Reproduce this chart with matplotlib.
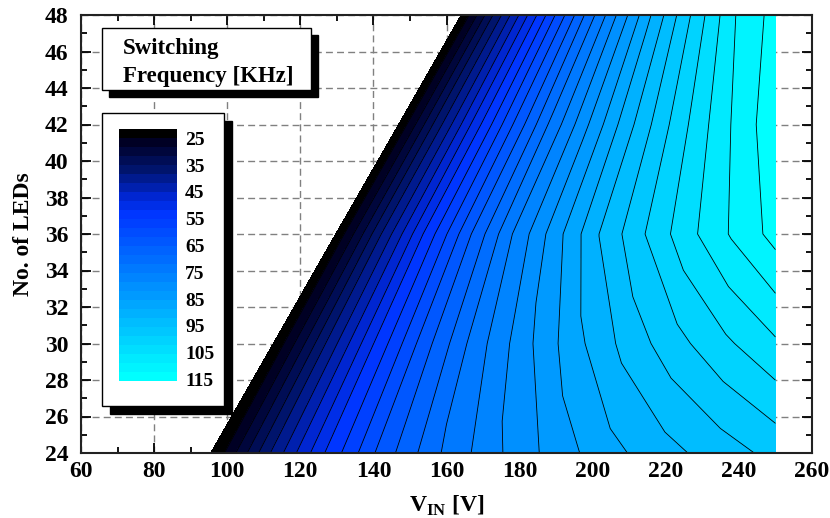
"""Switching frequency map over input voltage and number of LEDs."""

import matplotlib

matplotlib.use("Agg")

import matplotlib.pyplot as plt
import numpy as np
from matplotlib.colors import LinearSegmentedColormap
from matplotlib.patches import Rectangle
from matplotlib.ticker import MultipleLocator

# rows of the map: LED count and the lowest usable input voltage for it
n_leds = [24, 30, 36, 42, 48]
v_in_min = [95.5, 112.6, 129.7, 146.9, 164.0]
v_in_max = 250.0
# sample points along a row, as fraction of the way from v_in_min to v_in_max
row_fraction = [0.0, 0.025, 0.05, 0.1, 0.15, 0.2, 0.3, 0.4, 0.5, 0.6, 0.7, 0.8, 0.9, 1.0]
# switching frequency [kHz] read at those points
freq_24 = [21.65, 25.1, 29.3, 37.6, 44.9, 51.6, 62.9, 71.4, 77.7, 82.9, 87.4, 90.7, 93.6, 96.4]
freq_30 = [21.65, 25.6, 29.6, 37.8, 45.0, 51.8, 63.6, 73.3, 80.8, 87.5, 93.0, 97.5, 101.4, 104.9]
freq_36 = [21.65, 26.0, 29.8, 37.9, 45.0, 52.0, 64.3, 75.1, 83.9, 92.1, 98.5, 104.3, 109.1, 113.3]
freq_42 = [21.65, 25.5, 29.1, 36.4, 43.0, 49.6, 61.5, 72.3, 81.6, 90.2, 97.5, 104.1, 109.8, 114.5]
freq_48 = [21.65, 24.9, 28.3, 34.9, 41.0, 47.1, 58.6, 69.4, 79.2, 88.3, 96.5, 103.8, 110.5, 113.0]
legend_ticks = [25, 35, 45, 55, 65, 75, 85, 95, 105, 115]

FIG_W, FIG_H = 830, 518


def _fig_box(x0: float, y0: float, x1: float, y1: float) -> list[float]:
    """Pixel box (top-left origin) -> figure fraction [left, bottom, width, height]."""
    return [x0 / FIG_W, 1 - y1 / FIG_H, (x1 - x0) / FIG_W, (y1 - y0) / FIG_H]


def _shadow_box(fig, x0, y0, x1, y1, offset):
    left, bottom, width, height = _fig_box(x0, y0, x1, y1)
    dx, dy = offset / FIG_W, offset / FIG_H
    fig.add_artist(Rectangle((left + dx, bottom - dy), width, height, transform=fig.transFigure,
                             facecolor="black", edgecolor="black", zorder=3))
    fig.add_artist(Rectangle((left, bottom), width, height, transform=fig.transFigure,
                             facecolor="white", edgecolor="black", linewidth=1.0, zorder=4))


def main() -> None:
    plt.rcParams["font.family"] = ["Liberation Serif", "DejaVu Serif"]
    plt.rcParams["font.weight"] = "bold"
    plt.rcParams["axes.labelweight"] = "bold"
    plt.rcParams["mathtext.fontset"] = "custom"
    plt.rcParams["mathtext.rm"] = "Liberation Serif:bold"
    plt.rcParams["mathtext.bf"] = "Liberation Serif:bold"

    leds = np.asarray(n_leds, dtype=float)
    v_lo = np.asarray(v_in_min)
    frac = np.asarray(row_fraction)
    freq = np.array([freq_24, freq_30, freq_36, freq_42, freq_48])
    v_grid = v_lo[:, None] + frac[None, :] * (v_in_max - v_lo[:, None])
    n_grid = np.repeat(leds[:, None], frac.size, axis=1)

    levels = np.linspace(21.65, 115.45, 29)
    cmap = LinearSegmentedColormap.from_list(
        "origin_blue",
        [(0.0, (0, 0, 0)), (0.037, (0, 0, 0.15)), (0.148, (0, 0.08, 0.43)),
         (0.259, (0, 0.15, 0.82)), (0.333, (0, 0.21, 1.0)), (1.0, (0, 1.0, 1.0))],
    )
    band_colors = cmap(np.linspace(0, 1, levels.size - 1))

    fig = plt.figure(figsize=(FIG_W / 100, FIG_H / 100), dpi=100)
    ax = fig.add_axes(_fig_box(81, 15, 812, 453))
    cf = ax.contourf(v_grid, n_grid, freq, levels=levels, colors=band_colors)
    ax.contour(v_grid, n_grid, freq, levels=levels[1:-1], colors="black", linewidths=0.6)

    ax.set_xlim(60, 260)
    ax.set_ylim(24, 48)
    ax.xaxis.set_major_locator(MultipleLocator(20))
    ax.xaxis.set_minor_locator(MultipleLocator(10))
    ax.yaxis.set_major_locator(MultipleLocator(2))
    ax.yaxis.set_minor_locator(MultipleLocator(1))
    ax.tick_params(which="both", direction="in", top=True, right=True, width=1.3)
    ax.tick_params(which="major", length=7, labelsize=17)
    ax.tick_params(which="minor", length=4)
    ax.tick_params(axis="x", pad=6)
    ax.tick_params(axis="y", pad=9)
    ax.set_axisbelow(True)
    ax.grid(True, which="major", color="#808080", linestyle=(0, (5, 3)), linewidth=1.0)
    for spine in ax.spines.values():
        spine.set_linewidth(1.5)
        spine.set_color("#222222")
    ax.set_xlabel(r"V$_{\mathrm{IN}}$ [V]", fontsize=17, labelpad=8)
    ax.set_ylabel("No. of LEDs", fontsize=17, labelpad=8)

    # title box
    _shadow_box(fig, 102, 28, 311, 90, 6.5)
    fig.text(123 / FIG_W, 1 - 54 / FIG_H, "Switching", fontsize=16.5, zorder=6, va="baseline")
    fig.text(123 / FIG_W, 1 - 82 / FIG_H, "Frequency [KHz]", fontsize=16.5, zorder=6, va="baseline")

    # colour scale box
    _shadow_box(fig, 102, 113, 224, 406, 8)
    cax = fig.add_axes(_fig_box(119, 129.3, 176.7, 380.7))
    cax.set_zorder(6)
    cb = fig.colorbar(cf, cax=cax, ticks=legend_ticks)
    cb.outline.set_visible(False)
    cax.invert_yaxis()
    cax.tick_params(length=0, pad=6, labelsize=14)

    fig.savefig("out.png", dpi=100)
    plt.close(fig)


if __name__ == "__main__":
    main()
